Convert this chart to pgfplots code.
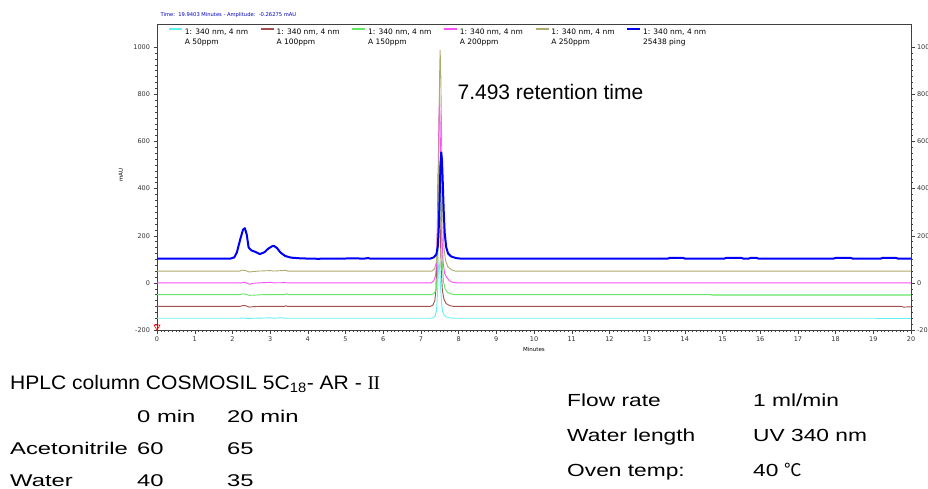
\documentclass[border=0pt]{standalone}
\usepackage{pgfplots}
\pgfplotsset{compat=1.18}
\usepackage{fontspec}
\setmainfont{Liberation Sans}
\newfontfamily\dv{DejaVu Sans}
\newfontfamily\cjk{Noto Sans CJK SC}
\newfontfamily\lserif{Liberation Serif}
\newfontfamily\wideA[FakeStretch=1.4]{Liberation Sans}
\newfontfamily\wideB[FakeStretch=1.3]{Liberation Sans}
\newfontfamily\wideH[FakeStretch=1.08]{Liberation Sans}

\definecolor{cyanL}{RGB}{100,240,240}
\definecolor{brownL}{RGB}{165,80,80}
\definecolor{greenL}{RGB}{100,230,100}
\definecolor{pinkL}{RGB}{250,80,250}
\definecolor{oliveL}{RGB}{175,170,110}
\definecolor{blueL}{RGB}{0,0,250}

\pgfplotsset{
  chromframe/.style={
    at={(157pt,158pt)}, anchor=south west,
    scale only axis, width=754pt, height=306pt,
    xmin=0, xmax=20, ymin=-200, ymax=1098,
    tick align=outside,
    major tick length=3.5pt, minor tick length=2pt,
    ytick={-200,0,200,400,600,800,1000},
    minor y tick num=7,
    ticklabel style={font=\dv\fontsize{6.5}{7}\selectfont, text=black!80},
    /pgf/number format/assume math mode=true,
    /pgf/number format/1000 sep={},
    axis line style={black!75},
    every tick/.style={black!75},
  }
}

\begin{document}
\begin{tikzpicture}
% right hand scale
\begin{axis}[chromframe,
  axis x line=none, axis y line*=right,
  yticklabel style={anchor=west, xshift=-1pt}]
\addplot[draw=none] coordinates {(0,0)};
\end{axis}

\begin{axis}[chromframe,
  xtick={0,1,...,20}, minor x tick num=9,
  xtick pos=bottom, ytick pos=left,
  xlabel={Minutes}, ylabel={mAU},
  xlabel style={font=\dv\fontsize{5.5}{6}\selectfont, at={(axis description cs:0.5,-0.065)}, anchor=center},
  ylabel style={font=\dv\fontsize{5.5}{6}\selectfont, at={(axis description cs:-0.048,0.507)}, anchor=center},
  legend columns=6,
  legend cell align=left,
  legend style={draw=none, fill=none, inner sep=0pt,
    at={(axis description cs:0.015,0.996)}, anchor=north west,
    font=\dv\fontsize{7.5}{10}\selectfont,
    /tikz/column sep=0pt,
    /tikz/every even column/.append style={column sep=10pt}},
  legend image code/.code={\draw[#1, line width=1.4pt] (0pt,2.5pt) -- (13pt,2.5pt);},
  clip=false,
]

% A 50ppm
\addplot[cyanL, line width=0.9pt] coordinates {
(0,-150)(2.2,-150)(2.3,-149)(2.4,-151)(2.6,-150)(2.9,-149)(3.0,-148)(3.1,-150)(3.3,-148)(3.4,-150)
(7.26,-150)(7.33,-148)(7.38,-140)(7.41,-121)(7.43,-78)(7.45,-2)(7.465,60)(7.48,89)(7.495,70)
(7.51,22)(7.53,-42)(7.55,-90)(7.58,-124)(7.62,-138)(7.68,-145)(7.78,-149)(7.88,-150)
(19.05,-150)(19.1,-151)(20,-151)};
\addlegendentry{\begin{tabular}[t]{@{}l@{}}1: 340 nm, 4 nm\\A 50ppm\end{tabular}}

% A 100ppm
\addplot[brownL, line width=0.9pt] coordinates {
(0,-100)(2.2,-100)(2.28,-96)(2.35,-97)(2.45,-103)(2.55,-101)(2.7,-100)(3.38,-100)(3.42,-97)(3.46,-100)
(7.25,-100)(7.32,-94)(7.37,-75)(7.40,-26)(7.42,86)(7.44,284)(7.455,446)(7.47,520)(7.485,470)
(7.50,346)(7.52,179)(7.54,55)(7.57,-32)(7.61,-69)(7.67,-88)(7.77,-97)(7.87,-100)
(19.75,-100)(19.8,-103)(19.9,-102)(20,-102)};
\addlegendentry{\begin{tabular}[t]{@{}l@{}}1: 340 nm, 4 nm\\A 100ppm\end{tabular}}

% A 150ppm
\addplot[greenL, line width=0.9pt] coordinates {
(0,-50)(2.2,-50)(2.27,-47)(2.35,-48)(2.45,-53)(2.6,-52)(2.8,-50)(3.4,-50)(3.44,-46)(3.48,-50)
(7.28,-50)(7.35,-45)(7.40,-30)(7.43,10)(7.45,100)(7.47,260)(7.485,390)(7.50,450)(7.515,410)
(7.53,310)(7.55,175)(7.57,75)(7.60,5)(7.64,-25)(7.70,-40)(7.80,-47)(7.90,-50)
(14.7,-50)(14.72,-52)(20,-52)};
\addlegendentry{\begin{tabular}[t]{@{}l@{}}1: 340 nm, 4 nm\\A 150ppm\end{tabular}}
\addplot[greenL!65, line width=1.8pt, forget plot] coordinates {(14.72,-52)(20,-52)};

% A 200ppm
\addplot[pinkL, line width=0.9pt] coordinates {
(0,0)(2.25,0)(2.3,3)(2.4,-2)(2.45,-6)(2.55,-2)(2.7,0)(3.0,2)(3.1,0)(3.4,1)(3.45,0)
(7.27,0)(7.34,8)(7.39,31)(7.42,93)(7.44,233)(7.46,481)(7.475,683)(7.49,776)(7.505,714)
(7.52,559)(7.54,349)(7.56,194)(7.59,85)(7.63,39)(7.69,22)(7.75,10)(7.85,2)(7.95,0)
(20,0)};
\addlegendentry{\begin{tabular}[t]{@{}l@{}}1: 340 nm, 4 nm\\A 200ppm\end{tabular}}

% A 250ppm
\addplot[oliveL, line width=0.9pt] coordinates {
(0,50)(2.2,50)(2.25,54)(2.35,52)(2.45,46)(2.55,48)(2.7,50)(3.0,52)(3.1,50)(3.42,53)(3.46,50)
(7.29,50)(7.36,59)(7.41,87)(7.44,162)(7.46,331)(7.48,631)(7.495,875)(7.51,987)(7.525,912)
(7.54,725)(7.56,472)(7.58,284)(7.61,153)(7.65,97)(7.71,69)(7.81,55)(7.91,50)
(20,50)};
\addlegendentry{\begin{tabular}[t]{@{}l@{}}1: 340 nm, 4 nm\\A 250ppm\end{tabular}}

% sample 25438
\addplot[blueL, line width=2pt, line join=round] coordinates {
(0,103)(1.95,103)(2.05,108)(2.12,130)(2.2,180)(2.28,225)(2.33,232)(2.38,205)(2.43,150)
(2.5,138)(2.6,132)(2.73,122)(2.85,130)(2.95,145)(3.05,155)(3.1,157)(3.18,148)(3.28,128)
(3.4,114)(3.55,107)(3.8,104)(4.0,103)(4.3,102)(4.4,103)(5.0,103)(5.05,104)(5.5,103)(5.6,105)(5.65,103)
(7.25,103)(7.34,108)(7.41,121)(7.45,157)(7.475,238)(7.50,382)(7.52,499)(7.54,553)(7.56,517)
(7.58,427)(7.605,306)(7.63,215)(7.67,152)(7.72,125)(7.80,112)(7.93,105)(8.05,103)
(13.55,103)(13.6,106)(13.95,106)(14.0,103)(15.05,103)(15.1,106)(15.5,106)(15.55,103)
(15.7,103)(15.75,106)(15.9,106)(15.95,103)(17.95,103)(18.0,106)(18.4,106)(18.45,103)
(19.2,103)(19.25,106)(19.6,106)(19.65,103)(20,103)};
\addlegendentry{\begin{tabular}[t]{@{}l@{}}1: 340 nm, 4 nm\\25438 ping\end{tabular}}

% start marker
\addplot[only marks, mark=triangle, mark size=3.5pt, mark options={red, rotate=180, line width=0.6pt}, forget plot]
  coordinates {(0,-186)};

\node[anchor=west, font=\fontsize{21}{24}\selectfont] at (axis cs:7.88,810) {7.493 retention time};
\end{axis}

\node[anchor=west, font=\dv\fontsize{5.2}{6}\selectfont, text=blue!75!black] at (157pt,473pt)
  {Time:\ \ 19.9403 Minutes - Amplitude:\ \ -0.26275 mAU};

% method block, left
\node[anchor=base west, inner sep=0pt, font=\wideH\fontsize{19.5}{22}\selectfont] at (10pt,99pt)
  {HPLC column COSMOSIL 5C\textsubscript{18}- AR - {\lserif I\kern-0.6pt I}};
\begin{scope}[every node/.style={anchor=base west, inner sep=0pt, font=\wideA\fontsize{17}{20}\selectfont}]
\node at (137pt,66pt) {0 min};
\node at (227pt,66pt) {20 min};
\node at (10pt,33.5pt) {Acetonitrile};
\node at (137pt,33.5pt) {60};
\node at (227pt,33.5pt) {65};
\node at (10pt,2pt) {Water};
\node at (137pt,2pt) {40};
\node at (227pt,2pt) {35};
\end{scope}
% method block, right
\begin{scope}[every node/.style={anchor=base west, inner sep=0pt, font=\wideB\fontsize{17.5}{20}\selectfont}]
\node at (567pt,82pt) {Flow rate};
\node at (753pt,82pt) {1 ml/min};
\node at (567pt,47pt) {Water length};
\node at (753pt,47pt) {UV 340 nm};
\node at (567pt,12pt) {Oven temp:};
\node at (753pt,12pt) {40 {\cjk ℃}};
\end{scope}

\pgfresetboundingbox
\useasboundingbox (0pt,0pt) rectangle (928pt,488pt);
\end{tikzpicture}
\end{document}
